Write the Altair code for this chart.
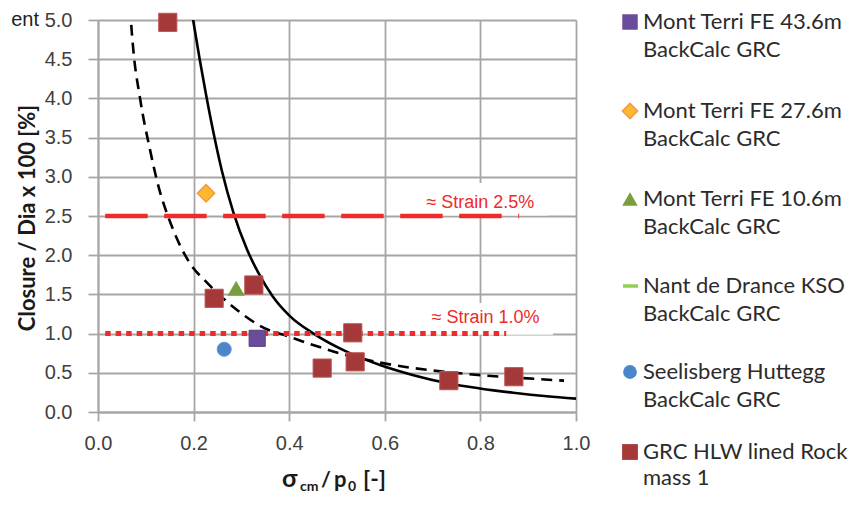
import altair as alt
import pandas as pd

# ---------------- data ----------------
grc_x = [0.146, 0.243, 0.326, 0.469, 0.533, 0.538, 0.734, 0.870]
grc_y = [4.97, 1.45, 1.62, 0.56, 1.01, 0.64, 0.40, 0.45]

mt436_x = [0.333]
mt436_y = [0.94]
mt276_x = [0.226]
mt276_y = [2.79]
mt106_x = [0.289]
mt106_y = [1.58]
seel_x = [0.264]
seel_y = [0.80]

solid_x = [0.185, 0.199, 0.213, 0.226, 0.241, 0.259, 0.283, 0.312, 0.335, 0.366,
           0.402, 0.451, 0.520, 0.590, 0.660, 0.729, 0.799, 0.869, 0.939, 1.0]
solid_y = [5.49, 5.0, 4.49, 4.05, 3.58, 3.08, 2.55, 2.07, 1.78, 1.47,
           1.22, 1.00, 0.77, 0.60, 0.47, 0.37, 0.30, 0.245, 0.20, 0.17]

dashed_x = [0.066, 0.069, 0.073, 0.088, 0.109, 0.123, 0.155, 0.192, 0.228, 0.283, 0.345,
            0.40, 0.45, 0.52, 0.59, 0.66, 0.73, 0.80, 0.87, 0.975]
dashed_y = [5.4, 5.0, 4.68, 4.0, 3.34, 2.96, 2.36, 1.90, 1.65, 1.34, 1.08,
            0.96, 0.855, 0.725, 0.63, 0.56, 0.51, 0.47, 0.44, 0.40]

strain_levels = [2.5, 1.0]
strain_x_start = [0.015, 0.015]
strain_x_end = [0.881, 0.854]
strain_labels = ["≈ Strain 2.5%", "≈ Strain 1.0%"]
strain_label_x = [0.800, 0.811]
strain_label_y = [2.66, 1.20]
box_x1 = [0.632, 0.640]
box_x2 = [0.941, 0.952]
box_y1 = [2.505, 0.985]
box_y2 = [2.92, 1.39]

x_ticks = [0.0, 0.2, 0.4, 0.6, 0.8, 1.0]
y_ticks = [0.0, 0.5, 1.0, 1.5, 2.0, 2.5, 3.0, 3.5, 4.0, 4.5, 5.0]

legend_line1 = ["Mont Terri FE 43.6m", "Mont Terri FE 27.6m", "Mont Terri FE 10.6m",
                "Nant de Drance KSO", "Seelisberg Huttegg", "GRC HLW lined Rock"]
legend_line2 = ["BackCalc GRC", "BackCalc GRC", "BackCalc GRC",
                "BackCalc GRC", "BackCalc GRC", "mass 1"]

# ---------------- layout ----------------
W, H = 478, 392
GRID = "#a6a6a6"
FONT = "Lato"

xs = alt.Scale(domain=[0, 1], nice=False, zero=False)
ys = alt.Scale(domain=[0, 5], nice=False, zero=False)

x_axis = alt.Axis(values=x_ticks, format=".1f", grid=True, gridColor=GRID, gridWidth=1.8,
                  domainColor=GRID, domainWidth=1.8, tickColor=GRID, tickWidth=1.8, tickSize=9,
                  labelFont="Liberation Sans", labelFontSize=20, labelColor="#404040",
                  labelPadding=12, labelFlush=False, labelOverlap=False, title=None)
y_axis = alt.Axis(values=y_ticks, format=".1f", grid=True, gridColor=GRID, gridWidth=1.8,
                  domainColor=GRID, domainWidth=1.8, tickColor=GRID, tickWidth=1.8, tickSize=10,
                  labelFont="Liberation Sans", labelFontSize=20, labelColor="#404040",
                  labelPadding=16, labelFlush=False, labelOverlap=False, title=None)

X = alt.X("x:Q", scale=xs, axis=x_axis)
Y = alt.Y("y:Q", scale=ys, axis=y_axis)


def df(xv, yv):
    return pd.DataFrame({"x": xv, "y": yv})


def py_to_y(py):
    return 5.0 * (1 - py / H)


# white text boxes behind strain labels
boxes = alt.Chart(pd.DataFrame({"x": box_x1, "x2": box_x2, "y": box_y1, "y2": box_y2})).mark_rect(
    fill="white").encode(x=X, x2="x2:Q", y=Y, y2="y2:Q")

solid = alt.Chart(df(solid_x, solid_y)).mark_line(
    color="black", strokeWidth=2.6, interpolate="monotone", clip=True).encode(x=X, y=Y)
dashed = alt.Chart(df(dashed_x, dashed_y)).mark_line(
    color="black", strokeWidth=2.6, strokeDash=[11, 7], interpolate="monotone", clip=True).encode(x=X, y=Y)

strain_df = pd.DataFrame({"x": strain_x_start, "x2": strain_x_end, "y": strain_levels})
strain25 = alt.Chart(strain_df.iloc[[0]]).mark_rule(
    color="#ee2a2a", strokeWidth=4.5, strokeDash=[42.5, 16.5]).encode(x=X, x2="x2:Q", y=Y)
strain10 = alt.Chart(strain_df.iloc[[1]]).mark_rule(
    color="#ee2a2a", strokeWidth=5, strokeDash=[5.5, 5]).encode(x=X, x2="x2:Q", y=Y)

strain_text = alt.Chart(pd.DataFrame({"x": strain_label_x, "y": strain_label_y, "t": strain_labels})).mark_text(
    font="Liberation Sans", fontSize=18, color="#ee2a2a", align="center", baseline="middle").encode(
    x=X, y=Y, text="t:N")

grc = alt.Chart(df(grc_x, grc_y)).mark_point(
    shape="square", filled=True, size=330, fill="#a5393a", stroke="#bb5552", strokeWidth=1, opacity=1).encode(x=X, y=Y)
mt436 = alt.Chart(df(mt436_x, mt436_y)).mark_point(
    shape="square", filled=True, size=260, fill="#6a4c9c", stroke="#54407e", strokeWidth=1, opacity=1).encode(x=X, y=Y)
mt276 = alt.Chart(df(mt276_x, mt276_y)).mark_point(
    shape="diamond", filled=True, size=300, fill="#fcb930", stroke="#f79646", strokeWidth=1.5, opacity=1).encode(x=X, y=Y)
mt106 = alt.Chart(df(mt106_x, mt106_y)).mark_point(
    shape="triangle-up", filled=True, size=300, fill="#77a03c", opacity=1).encode(x=X, y=Y)
seel = alt.Chart(df(seel_x, seel_y)).mark_point(
    shape="circle", filled=True, size=200, fill="#4a86c8", stroke="#6d9bd0", strokeWidth=1, opacity=1).encode(x=X, y=Y)

# ---------------- legend (drawn beside the plot) ----------------
leg_first = [2.0, 91.0, 179.0, 266.0, 352.0, 432.0]
leg_gap = [28, 28, 28, 28, 28, 26]
leg_rows = []
for a, b, f, g in zip(legend_line1, legend_line2, leg_first, leg_gap):
    leg_rows.append({"t": a, "y": py_to_y(f)})
    leg_rows.append({"t": b, "y": py_to_y(f + g)})
leg_text = alt.Chart(pd.DataFrame(leg_rows)).mark_text(
    font=FONT, fontSize=22, color="#2b2b2b", align="left", baseline="middle").encode(
    x=alt.value(545), y=Y, text="t:N")

sym_y = [py_to_y(f) for f in leg_first]
leg_sq1 = alt.Chart(df([0], [sym_y[0]])).mark_point(
    shape="square", filled=True, size=240, fill="#6a4c9c", opacity=1).encode(x=alt.value(532), y=Y)
leg_dia = alt.Chart(df([0], [sym_y[1]])).mark_point(
    shape="diamond", filled=True, size=230, fill="#fcb930", stroke="#f79646", strokeWidth=1.5, opacity=1).encode(x=alt.value(532), y=Y)
leg_tri = alt.Chart(df([0], [sym_y[2]])).mark_point(
    shape="triangle-up", filled=True, size=240, fill="#77a03c", opacity=1).encode(x=alt.value(532), y=Y)
leg_line = alt.Chart(df([0], [sym_y[3]])).mark_rule(
    color="#92d050", strokeWidth=3.5).encode(x=alt.value(525), x2=alt.value(540), y=Y)
leg_cir = alt.Chart(df([0], [sym_y[4]])).mark_point(
    shape="circle", filled=True, size=190, fill="#4a86c8", opacity=1).encode(x=alt.value(532), y=Y)
leg_sq2 = alt.Chart(df([0], [sym_y[5]])).mark_point(
    shape="square", filled=True, size=250, fill="#a5393a", opacity=1).encode(x=alt.value(532), y=Y)

# ---------------- axis titles ----------------
y_title = alt.Chart(df([0], [0])).mark_text(
    text="Closure / Dia x 100 [%]", font=FONT, fontWeight="bold", fontSize=22, angle=270,
    align="center", baseline="middle", color="#1a1a1a").encode(x=alt.value(-70), y=alt.value(198))

title_parts = [("σ", 184, 467, 25), ("cm", 202, 471, 14), ("/", 223, 467, 21),
               ("p", 236, 467, 22), ("0", 250, 471, 14), ("[-]", 265, 467, 23)]
x_title_layers = [
    alt.Chart(df([0], [0])).mark_text(
        text=t, font=FONT, fontWeight="bold", fontSize=fs, align="left", baseline="alphabetic",
        color="#1a1a1a").encode(x=alt.value(px), y=alt.value(pyv))
    for (t, px, pyv, fs) in title_parts
]

ent = alt.Chart(df([0], [0])).mark_text(
    text="ent", font="Liberation Sans", fontSize=20, align="right", baseline="middle",
    color="#222222").encode(x=alt.value(-59), y=alt.value(0))

chart = alt.layer(
    boxes, solid, dashed, strain25, strain10, strain_text,
    grc, mt436, mt276, mt106, seel,
    leg_text, leg_sq1, leg_dia, leg_tri, leg_line, leg_cir, leg_sq2,
    y_title, *x_title_layers, ent
).properties(
    width=W, height=H,
    autosize=alt.AutoSizeParams(type="none"),
    padding={"left": 90, "top": 12, "right": 274, "bottom": 83},
).configure_view(stroke=None)

chart.save("out.html", embed_options={"renderer": "svg", "actions": False})
